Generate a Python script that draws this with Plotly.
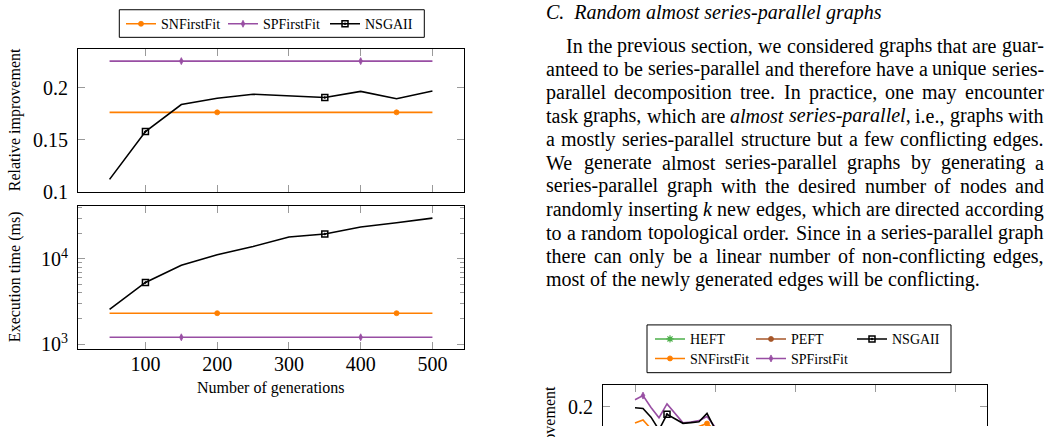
import plotly.graph_objects as go

W, H = 1055, 437
FONT = "Liberation Serif, Times New Roman, serif"

# ---------------- data: left figure ----------------
generations = [50, 100, 150, 200, 250, 300, 350, 400, 450, 500]
rel_snfirstfit = [0.1764, 0.1764, 0.1764, 0.1764, 0.1764, 0.1764, 0.1764, 0.1764, 0.1764, 0.1764]
rel_spfirstfit = [0.2257, 0.2257, 0.2257, 0.2257, 0.2257, 0.2257, 0.2257, 0.2257, 0.2257, 0.2257]
rel_nsgaii = [0.1119, 0.1579, 0.1839, 0.1900, 0.1938, 0.1926, 0.1907, 0.1966, 0.1895, 0.1970]
time_snfirstfit = [2320, 2320, 2320, 2320, 2320, 2320, 2320, 2320, 2320, 2320]
time_spfirstfit = [1212, 1212, 1212, 1212, 1212, 1212, 1212, 1212, 1212, 1212]
time_nsgaii = [2570, 5310, 8450, 11200, 14000, 18100, 19600, 23700, 26600, 30100]

gen_ticks = [100, 200, 300, 400, 500]
rel_ticks = [0.1, 0.15, 0.2]
rel_tick_labels = ["0.1", "0.15", "0.2"]
time_ticks = [1000, 10000]
time_tick_labels = ["10<sup>3</sup>", "10<sup>4</sup>"]
time_minor_ticks = [2000, 3000, 4000, 5000, 6000, 7000, 8000, 9000, 20000, 30000, 40000]

# indices of points carrying a marker
sn_marked = [3, 8]
sp_marked = [2, 7]
ns_marked = [1, 6]

# ---------------- data: partial right figure ----------------
k_values = [0, 1, 2, 3, 4, 5, 6, 7, 8, 9, 10, 11, 12, 13, 14]
r_heft = [0.172, 0.170, 0.166, 0.163, 0.165, 0.162, 0.160, 0.161, 0.163, 0.164, 0.160, 0.158, 0.156, 0.155, 0.154]
r_peft = [0.168, 0.167, 0.163, 0.160, 0.162, 0.159, 0.157, 0.158, 0.160, 0.161, 0.157, 0.155, 0.153, 0.152, 0.151]
r_nsgaii = [0.1991, 0.1984, 0.1900, 0.1778, 0.1928, 0.1881, 0.1841, 0.1848, 0.1856, 0.1937, 0.1787, 0.1720, 0.1680, 0.1650, 0.1630]
r_snfirstfit = [0.1843, 0.1874, 0.1787, 0.1721, 0.1693, 0.1703, 0.1731, 0.1768, 0.1811, 0.1839, 0.1778, 0.1720, 0.1690, 0.1670, 0.1650]
r_spfirstfit = [0.2068, 0.2108, 0.1993, 0.1895, 0.2028, 0.1937, 0.1846, 0.1853, 0.1867, 0.1906, 0.1806, 0.1750, 0.1690, 0.1650, 0.1620]
k_ticks = [0, 10, 20, 30, 40]
heft_marked = [7]
peft_marked = [12]
r_ns_marked = [4, 14]
r_sn_marked = [9]
r_sp_marked = [1, 11]

# ---------------- text ----------------
section_title = "C.\u00a0\u00a0Random almost series-parallel graphs"
paragraph_lines = [
    "In the previous section, we considered graphs that are guar-",
    "anteed to be series-parallel and therefore have a unique series-",
    "parallel decomposition tree. In practice, one may encounter",
    "task graphs, which are <i>almost</i> <i>series-parallel</i>, i.e., graphs with",
    "a mostly series-parallel structure but a few conflicting edges.",
    "We generate almost series-parallel graphs by generating a",
    "series-parallel graph with the desired number of nodes and",
    "randomly inserting <i>k</i> new edges, which are directed according",
    "to a random topological order. Since in a series-parallel graph",
    "there can only be a linear number of non-conflicting edges,",
    "most of the newly generated edges will be conflicting.",
]

ORANGE = "#ff7f00"
PURPLE = "#984ea3"
GREEN = "#4daf4a"
BROWN = "#a65628"
BLACK = "#000000"
TICKC = "#9a9a9a"


def px(xp):
    return xp / W


def py(yp):
    return 1 - yp / H


def opac(n, idx):
    return [1 if i in idx else 0 for i in range(n)]


fig = go.Figure()

styles = {
    "SNFirstFit": dict(color=ORANGE, symbol="circle", size=5, lw=0.8),
    "SPFirstFit": dict(color=PURPLE, symbol="diamond-tall", size=5, lw=0.8),
    "NSGAII": dict(color=BLACK, symbol="square-open-dot", size=6, lw=1.5),
    "HEFT": dict(color=GREEN, symbol="asterisk-open", size=6, lw=1.2),
    "PEFT": dict(color=BROWN, symbol="circle", size=5, lw=0.8),
}


def add_series(x, y, name, idx, xa, ya):
    st = styles[name]
    fig.add_trace(go.Scatter(
        x=x, y=y, mode="lines+markers", name=name, showlegend=False,
        xaxis=xa, yaxis=ya,
        line=dict(color=st["color"], width=1.6),
        marker=dict(color=st["color"], symbol=st["symbol"], size=st["size"],
                    opacity=opac(len(x), idx),
                    line=dict(color=st["color"], width=st["lw"])),
    ))


def add_legend_entry(name, legend):
    st = styles[name]
    fig.add_trace(go.Scatter(
        x=[None], y=[None], mode="lines+markers", name=name, legend=legend,
        line=dict(color=st["color"], width=1.6),
        marker=dict(color=st["color"], symbol=st["symbol"], size=st["size"],
                    line=dict(color=st["color"], width=st["lw"])),
    ))


# left figure, top panel
add_series(generations, rel_snfirstfit, "SNFirstFit", sn_marked, "x", "y")
add_series(generations, rel_spfirstfit, "SPFirstFit", sp_marked, "x", "y")
add_series(generations, rel_nsgaii, "NSGAII", ns_marked, "x", "y")
# left figure, bottom panel
add_series(generations, time_snfirstfit, "SNFirstFit", sn_marked, "x2", "y2")
add_series(generations, time_spfirstfit, "SPFirstFit", sp_marked, "x2", "y2")
add_series(generations, time_nsgaii, "NSGAII", ns_marked, "x2", "y2")
# partial right figure
add_series(k_values, r_heft, "HEFT", heft_marked, "x3", "y3")
add_series(k_values, r_peft, "PEFT", peft_marked, "x3", "y3")
add_series(k_values, r_snfirstfit, "SNFirstFit", r_sn_marked, "x3", "y3")
add_series(k_values, r_spfirstfit, "SPFirstFit", r_sp_marked, "x3", "y3")
add_series(k_values, r_nsgaii, "NSGAII", r_ns_marked, "x3", "y3")

# legend entries
for nm in ["SNFirstFit", "SPFirstFit", "NSGAII"]:
    add_legend_entry(nm, "legend")
for nm in ["HEFT", "PEFT", "NSGAII"]:
    add_legend_entry(nm, "legend2")
for nm in ["SNFirstFit", "SPFirstFit"]:
    add_legend_entry(nm, "legend3")

common_ax = dict(showgrid=False, zeroline=False, showline=True, linecolor=BLACK, linewidth=1,
                 ticks="inside", ticklen=7, tickcolor=TICKC, tickwidth=1,
                 tickfont=dict(family=FONT, size=20, color=BLACK))

L0, L1 = 78, 464
fig.update_layout(
    xaxis=dict(common_ax, domain=[px(L0), px(L1)], anchor="y", range=[6, 544],
               tickvals=gen_ticks, showticklabels=False, mirror="all"),
    yaxis=dict(common_ax, domain=[py(196.7), py(50)], anchor="x", range=[0.1, 0.2376],
               tickvals=rel_ticks, ticktext=rel_tick_labels, mirror="all", ticklabelstandoff=5),
    xaxis2=dict(common_ax, domain=[px(L0), px(L1)], anchor="y2", range=[6, 544],
                tickvals=gen_ticks, mirror="all", ticklabelstandoff=-3),
    yaxis2=dict(common_ax, type="log", domain=[py(357.7), py(211)], anchor="x2", range=[2.95, 4.624],
                tickvals=time_ticks, ticktext=time_tick_labels, mirror="all", ticklabelstandoff=5,
                minor=dict(tickvals=time_minor_ticks, ticks="inside", ticklen=4, tickcolor=TICKC)),
    xaxis3=dict(common_ax, domain=[px(603), px(987)], anchor="y3", side="top", range=[-4, 44],
                tickvals=k_ticks, showticklabels=False, mirror=False),
    yaxis3=dict(common_ax, domain=[0, py(395)], anchor="x3", range=[0.18152, 0.22092],
                tickvals=[0.2], ticktext=["0.2"], mirror="all", ticklabelstandoff=5),
)

leg_common = dict(orientation="h", bgcolor="rgba(0,0,0,0)", borderwidth=0,
                  font=dict(family=FONT, size=14, color=BLACK), entrywidthmode="pixels",
                  xanchor="left", yanchor="top", traceorder="normal")
fig.update_layout(
    legend=dict(leg_common, x=px(121), y=py(8.4), entrywidth=57),
    legend2=dict(leg_common, x=px(650), y=py(331.7), entrywidth=56),
    legend3=dict(leg_common, x=px(650), y=py(351.7), entrywidth=56),
)

shapes = [
    dict(type="rect", xref="paper", yref="paper", x0=px(119.3), x1=px(424.3), y0=py(38.3), y1=py(10),
         line=dict(color=BLACK, width=1)),
    dict(type="rect", xref="paper", yref="paper", x0=px(647), x1=px(951), y0=py(382.3), y1=py(333.3),
         line=dict(color=BLACK, width=1)),
]

annotations = []


def ann(text, x, y, size, angle=0, xanchor="center", yanchor="middle"):
    annotations.append(dict(text=text, x=px(x), y=py(y), xref="paper", yref="paper",
                            showarrow=False, textangle=angle, xanchor=xanchor, yanchor=yanchor,
                            borderpad=0, font=dict(family=FONT, size=size, color=BLACK)))


ann("Relative improvement", 15, 123.3, 16, angle=-90)
ann("Execution time (ms)", 15, 284.3, 16, angle=-90)
ann("Number of generations", 271, 397.7, 16)
ann("Relative improvement", 550, 470, 16, angle=-90)

# ---- justified paragraph (word placement from Times metrics) ----
ROMAN = {" ": 250, ",": 250, ".": 250, "-": 333,
         "a": 444, "b": 500, "c": 444, "d": 500, "e": 444, "f": 333, "g": 500, "h": 500, "i": 278,
         "j": 278, "k": 500, "l": 278, "m": 778, "n": 500, "o": 500, "p": 500, "q": 500, "r": 333,
         "s": 389, "t": 278, "u": 500, "v": 500, "w": 722, "x": 500, "y": 500, "z": 444,
         "C": 667, "I": 333, "S": 556, "W": 944, "R": 667, "T": 611}
ITALIC = {" ": 250, ",": 250, ".": 250, "-": 333,
          "a": 500, "b": 500, "c": 444, "d": 500, "e": 444, "f": 278, "g": 500, "h": 500, "i": 278,
          "j": 278, "k": 444, "l": 278, "m": 722, "n": 500, "o": 500, "p": 500, "q": 500, "r": 389,
          "s": 389, "t": 278, "u": 500, "v": 444, "w": 667, "x": 444, "y": 444, "z": 389,
          "C": 667, "R": 611}


def word_width(w, fs):
    total, italic, i = 0, False, 0
    while i < len(w):
        if w.startswith("<i>", i):
            italic = True
            i += 3
        elif w.startswith("</i>", i):
            italic = False
            i += 4
        else:
            table = ITALIC if italic else ROMAN
            total += table.get(w[i], 500)
            i += 1
    return total * fs / 1000


FS = 20
TXT_L, TXT_R, INDENT = 545, 1043, 20
LINE0, LSTEP = 46.7, 24

ann("<i>" + section_title + "</i>", TXT_L, 13.3, FS, xanchor="left")

for j, line in enumerate(paragraph_lines):
    words = line.split(" ")
    widths = [word_width(w, FS) for w in words]
    x0 = TXT_L + (INDENT if j == 0 else 0)
    last = j == len(paragraph_lines) - 1
    if last:
        gap = 0.25 * FS
    else:
        gap = (TXT_R - x0 - sum(widths)) / (len(words) - 1)
    xc = x0
    yc = LINE0 + j * LSTEP
    for w, wd in zip(words, widths):
        ann(w, xc, yc, FS, xanchor="left")
        xc += wd + gap

fig.update_layout(
    width=W, height=H, margin=dict(l=0, r=0, t=0, b=0),
    paper_bgcolor="white", plot_bgcolor="white",
    font=dict(family=FONT, color=BLACK),
    shapes=shapes, annotations=annotations,
)

fig.write_html("out.html")
